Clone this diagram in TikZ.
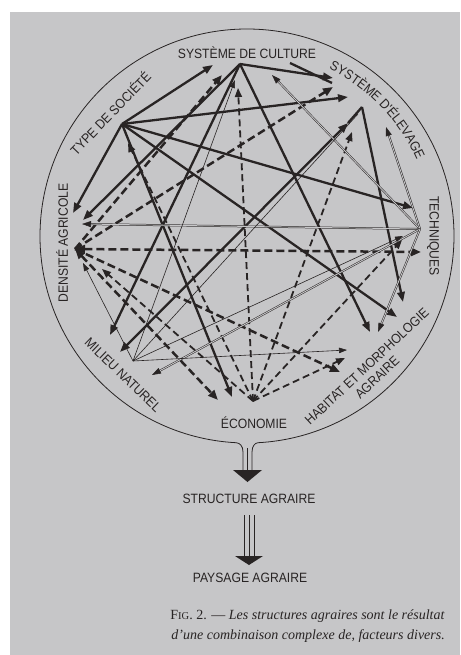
\documentclass[tikz,border=0pt]{standalone}
\usepackage{fontspec}
\setmainfont{Liberation Serif}
\newfontfamily\lblf[FakeStretch=0.9]{Liberation Sans}
\usetikzlibrary{arrows.meta,decorations.text,calc}
\definecolor{paper}{RGB}{198,198,200}
\definecolor{ink}{RGB}{40,36,36}
\newcommand\lblfont{\lblf\fontsize{13.5}{15}\selectfont}
\begin{document}
\begin{tikzpicture}[x=1pt,y=-1pt,
  thk/.style={draw=ink,line width=2.3pt,-{Triangle[length=10pt,width=7.5pt]}},
  dsh/.style={draw=ink,line width=2.5pt,dash pattern=on 8pt off 4pt,-{Triangle[length=10pt,width=8pt]}},
  mdsh/.style={draw=ink,line width=1.8pt,dash pattern=on 7pt off 4pt,-{Triangle[length=9pt,width=7pt]}},
  dbl/.style={draw=ink,double=paper,double distance=0.9pt,line width=0.5pt,-{Triangle[length=9pt,width=6pt]}},
  thn/.style={draw=ink,line width=0.6pt,-{Triangle[length=8pt,width=5.5pt]}},
  lab/.style={text=ink,font=\lblfont,inner sep=0pt},
  ring/.style={draw=ink,line width=0.8pt}]
\useasboundingbox (0,0) rectangle (460,655);
\fill[white] (0,0) rectangle (460,655);
\fill[paper] (10,12) rectangle (460,655);
% node points
\coordinate (O) at (247,236);
\coordinate (C) at (240,64);
\coordinate (S) at (122,124);
\coordinate (E) at (362,107);
\coordinate (T) at (420,229);
\coordinate (D) at (75,249);
\coordinate (M) at (133,361);
\coordinate (Ec) at (253,401);
% arrow tips
\coordinate (sc) at (213,65);
\coordinate (se) at (348,97);
\coordinate (st) at (413,208);
\coordinate (sh) at (397,317);
\coordinate (sec) at (232,397);
\coordinate (sd) at (73,213);
\coordinate (ce) at (333,78);
\coordinate (ce0) at (290,63);
\coordinate (ce1) at (332,83);
\coordinate (ch) at (370,332);
\coordinate (cm) at (110,335);
\coordinate (cd) at (83,220);
\coordinate (em) at (120,352);
\coordinate (eh) at (403,302);
\coordinate (ecc) at (238,88);
\coordinate (ece) at (352,132);
\coordinate (ect) at (402,240);
\coordinate (ech) at (345,358);
\coordinate (ecd) at (102,269);
\coordinate (ecs) at (128,143);
\coordinate (dc) at (222,75);
\coordinate (de) at (333,87);
\coordinate (dt) at (421,252);
\coordinate (dec) at (218,400);
\coordinate (dh) at (340,372);
\coordinate (tc) at (272,75);
\coordinate (te) at (386,127);
\coordinate (td) at (82,224);
\coordinate (tm) at (152,375);
\coordinate (th) at (378,332);
\coordinate (md) at (83,263);
\coordinate (mc) at (235,80);
\coordinate (mt) at (403,236);
\coordinate (mh) at (347,350);
\coordinate (me) at (348,123);
\coordinate (mee) at (358,114);
% ring with funnel
\draw[ring] (243,470) -- (243,452) .. controls (243,446) and (240,443) .. ($(O)+(93:207)$)
  arc[start angle=93,end angle=447,radius=207]
  .. controls (255,443) and (252,446) .. (252,452) -- (252,470);
\draw[ring] (247.5,448) -- (247.5,470);
\fill[ink] (233,470) -- (262,470) -- (247.5,482) -- cycle;
% second arrow
\draw[ring] (244,515) -- (244,556) (249,515) -- (249,556) (254,515) -- (254,556);
\fill[ink] (235,556) -- (263,556) -- (249,565) -- cycle;
% edges: Type de societe
\draw[thk] (S) -- (sc);
\draw[thk] (S) -- (se);
\draw[thk] (S) -- (st);
\draw[thk] (S) -- (sh);
\draw[thk] (S) -- (sec);
\draw[thk] (S) -- (sd);
% Systeme de culture
\draw[thk] (C) -- (ce);
\draw[thk,-] (ce0) -- (ce1);
\draw[thk] (C) -- (ch);
\draw[thk] (C) -- (cm);
\draw[thk] (C) -- (cd);
% Elevage
\draw[thk,{Triangle[length=10pt,width=7.5pt]}-{Triangle[length=10pt,width=7.5pt]}] (me) -- (em);
\draw[thk,-] (E) -- (me);
\draw[thk] (E) -- (eh);
% Economie
\draw[mdsh] (Ec) -- (ecc);
\draw[mdsh] (Ec) -- (ece);
\draw[mdsh] (Ec) -- (ect);
\draw[mdsh] (Ec) -- (ech);
\draw[mdsh] (Ec) -- (ecd);
\draw[mdsh] (Ec) -- (ecs);
% Densite
\draw[dsh] (D) -- (dc);
\draw[dsh] (D) -- (de);
\draw[dsh,{Triangle[length=10pt,width=8pt]}-{Triangle[length=10pt,width=8pt]}] (D) -- (dt);
\draw[dsh,{Triangle[length=10pt,width=8pt]}-{Triangle[length=10pt,width=8pt]}] (D) -- (dec);
\draw[dsh] (D) -- (dh);
% Techniques
\draw[dbl] (T) -- (tc);
\draw[dbl] (T) -- (te);
\draw[dbl] (T) -- (td);
\draw[dbl] (T) -- (tm);
\draw[dbl] (T) -- (th);
% Milieu
\draw[thn] (M) -- (md);
\draw[thn] (M) -- (mc);
\draw[thn] (M) -- (mt);
\draw[thn] (M) -- (mh);
\draw[thn,-] (M) -- (mee);
% labels
\node[lab] (lculture) at (247,53) {SYSTÈME DE CULTURE};
\path[decorate,decoration={text along path,text align=center,text color=ink,
  text={|\lblfont|SYSTÈME D'ÉLEVAGE}}] ($(O)+(-70:186)$) arc[start angle=-70,end angle=-18,radius=186];
\node[lab,rotate=46] (lsociete) at (110,113) {TYPE DE SOCIÉTÉ};
\node[lab,rotate=90] (ldensite) at (62,243) {DENSITÉ AGRICOLE};
\node[lab,rotate=-90] (ltech) at (433,236) {TECHNIQUES};
\node[lab,rotate=-44] (lmilieu) at (123,375) {MILIEU NATUREL};
\node[lab] (leco) at (254,423) {ÉCONOMIE};
\node[lab,rotate=43,align=center] (lhab) at (372,372) {HABITAT ET MORPHOLOGIE\\AGRAIRE};
\node[lab] (lstruct) at (249,499) {STRUCTURE AGRAIRE};
\node[lab] (lpays) at (250,578) {PAYSAGE AGRAIRE};
\node[text=ink,anchor=base east,inner sep=0pt,font=\fontsize{14}{16}\selectfont] (cap1) at (445,619)
  {F{\fontsize{10.5}{12}\selectfont IG}. 2. — \textit{Les structures agraires sont le résultat}};
\node[text=ink,anchor=base east,inner sep=0pt,font=\fontsize{14}{16}\selectfont\itshape] (cap2) at (445,639)
  {d'une combinaison complexe de, facteurs divers.};
\end{tikzpicture}
\end{document}
